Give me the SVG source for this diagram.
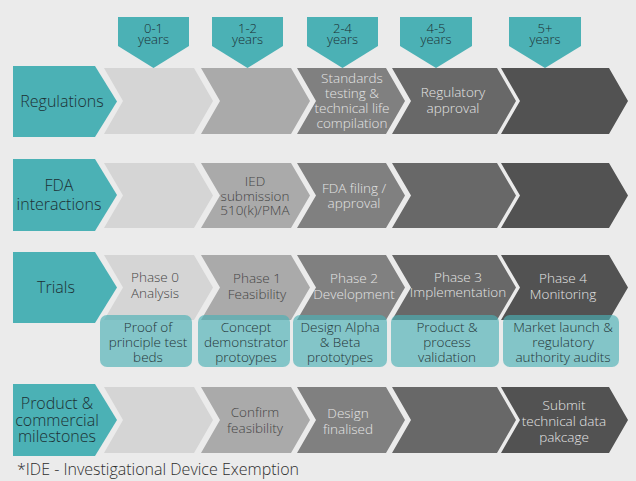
<svg xmlns="http://www.w3.org/2000/svg" width="636" height="481" viewBox="0 0 636 481">
  <style>
    text { font-family: "Open Sans", "Liberation Sans", sans-serif; text-anchor: middle; font-weight: 300; }
    .bg { fill: #ebebeb; }
    .label { fill: #4bb1b5; }
    .label-text { fill: #1c3034; font-size: 16px; }
    .tag { fill: #4bb1b5; }
    .tag-text { fill: #1c3034; font-size: 13px; }
    .c1 { fill: #d5d5d5; }
    .c2 { fill: #aaaaaa; }
    .c3 { fill: #808080; }
    .c4 { fill: #686868; }
    .c5 { fill: #525252; }
    .dark-text { fill: #454545; font-size: 13.5px; }
    .light-text { fill: #e4e4e4; font-size: 13.5px; }
    .box { fill: #4bb1b5; fill-opacity: 0.65; }
    .box-text { fill: #253638; font-size: 13.5px; }
    .note { fill: #2e2e2e; font-size: 16px; text-anchor: start; }
  </style>

  <rect class="bg" x="0" y="0" width="636" height="481"/>

  <!-- timeline tags -->
  <g id="tag-0-1">
    <polygon class="tag" points="118,17 189,17 189,46 153.5,68 118,46"/>
    <text class="tag-text" x="153.5" y="32.5">0-1</text>
    <text class="tag-text" x="153.5" y="43.5">years</text>
  </g>
  <g id="tag-1-2">
    <polygon class="tag" points="212,17 283,17 283,46 247.5,68 212,46"/>
    <text class="tag-text" x="247.5" y="32.5">1-2</text>
    <text class="tag-text" x="247.5" y="43.5">years</text>
  </g>
  <g id="tag-2-4">
    <polygon class="tag" points="307,17 378,17 378,46 342.5,68 307,46"/>
    <text class="tag-text" x="342.5" y="32.5">2-4</text>
    <text class="tag-text" x="342.5" y="43.5">years</text>
  </g>
  <g id="tag-4-5">
    <polygon class="tag" points="400,17 472,17 472,46 436,68 400,46"/>
    <text class="tag-text" x="436" y="32.5">4-5</text>
    <text class="tag-text" x="436" y="43.5">years</text>
  </g>
  <g id="tag-5plus">
    <polygon class="tag" points="509,17 581,17 581,46 545,68 509,46"/>
    <text class="tag-text" x="545" y="32.5">5+</text>
    <text class="tag-text" x="545" y="43.5">years</text>
  </g>

  <!-- Row: Regulations -->
  <g id="row-regulations">
    <polygon class="label" points="13,66 95,66 117,101.5 95,137 13,137"/>
    <text class="label-text" x="62" y="107">Regulations</text>
    <polygon class="c1" points="104,68 194,68 213,101 194,134 104,134 123,101"/>
    <polygon class="c2" points="201,68 291,68 310,101 291,134 201,134 220,101"/>
    <polygon class="c3" points="297,68 386,68 405,101 386,134 297,134 316,101"/>
    <polygon class="c4" points="392,68 497,68 516,101 497,134 392,134 411,101"/>
    <polygon class="c5" points="501,68 609,68 628,101 609,134 501,134 520,101"/>
    <text class="light-text" x="352" y="83">Standards</text>
    <text class="light-text" x="352" y="98">testing &amp;</text>
    <text class="light-text" x="352" y="113">technical life</text>
    <text class="light-text" x="352" y="128">compilation</text>
    <text class="light-text" x="453" y="97">Regulatory</text>
    <text class="light-text" x="453" y="113">approval</text>
  </g>

  <!-- Row: FDA interactions -->
  <g id="row-fda">
    <polygon class="label" points="13,159 95,159 117,195 95,231 13,231"/>
    <text class="label-text" x="59" y="191">FDA</text>
    <text class="label-text" x="59" y="210">interactions</text>
    <polygon class="c1" points="104,163 194,163 213,195.5 194,228 104,228 123,195.5"/>
    <polygon class="c2" points="201,163 291,163 310,195.5 291,228 201,228 220,195.5"/>
    <polygon class="c3" points="297,163 386,163 405,195.5 386,228 297,228 316,195.5"/>
    <polygon class="c4" points="392,163 497,163 516,195.5 497,228 392,228 411,195.5"/>
    <polygon class="c5" points="501,163 609,163 628,195.5 609,228 501,228 520,195.5"/>
    <text class="dark-text" x="255" y="186">IED</text>
    <text class="dark-text" x="255" y="200.5">submission</text>
    <text class="dark-text" x="255" y="215">510(k)/PMA</text>
    <text class="light-text" x="354" y="193">FDA filing /</text>
    <text class="light-text" x="354" y="208">approval</text>
  </g>

  <!-- Row: Trials -->
  <g id="row-trials">
    <polygon class="label" points="13,252 95,252 117,287.5 95,323 13,323"/>
    <text class="label-text" x="56" y="293">Trials</text>
    <polygon class="c1" points="104,255 194,255 213,287.5 194,320 104,320 123,287.5"/>
    <polygon class="c2" points="201,255 291,255 310,287.5 291,320 201,320 220,287.5"/>
    <polygon class="c3" points="297,255 386,255 405,287.5 386,320 297,320 316,287.5"/>
    <polygon class="c4" points="392,255 497,255 516,287.5 497,320 392,320 411,287.5"/>
    <polygon class="c5" points="501,255 609,255 628,287.5 609,320 501,320 520,287.5"/>
    <text class="dark-text" x="155" y="282">Phase 0</text>
    <text class="dark-text" x="155" y="298">Analysis</text>
    <text class="dark-text" x="257" y="283">Phase 1</text>
    <text class="dark-text" x="257" y="299">Feasibility</text>
    <text class="light-text" x="354" y="283">Phase 2</text>
    <text class="light-text" x="354" y="299">Development</text>
    <text class="light-text" x="458" y="282">Phase 3</text>
    <text class="light-text" x="458" y="297">Implementation</text>
    <text class="light-text" x="563" y="283">Phase 4</text>
    <text class="light-text" x="563" y="299">Monitoring</text>
  </g>

  <!-- Trial deliverables -->
  <g id="box-proof">
    <rect class="box" x="100" y="315" width="92" height="52" rx="7"/>
    <text class="box-text" x="148" y="332">Proof of</text>
    <text class="box-text" x="148" y="347">principle test</text>
    <text class="box-text" x="148" y="362">beds</text>
  </g>
  <g id="box-concept">
    <rect class="box" x="198" y="315" width="92" height="52" rx="7"/>
    <text class="box-text" x="246" y="332">Concept</text>
    <text class="box-text" x="246" y="347">demonstrator</text>
    <text class="box-text" x="246" y="362">protoypes</text>
  </g>
  <g id="box-design">
    <rect class="box" x="293" y="315" width="94" height="52" rx="7"/>
    <text class="box-text" x="340" y="332">Design Alpha</text>
    <text class="box-text" x="340" y="347">&amp; Beta</text>
    <text class="box-text" x="340" y="362">prototypes</text>
  </g>
  <g id="box-validation">
    <rect class="box" x="391" y="315" width="108" height="52" rx="7"/>
    <text class="box-text" x="447" y="332">Product &amp;</text>
    <text class="box-text" x="447" y="347">process</text>
    <text class="box-text" x="447" y="362">validation</text>
  </g>
  <g id="box-launch">
    <rect class="box" x="503" y="315" width="116" height="52" rx="7"/>
    <text class="box-text" x="563" y="332">Market launch &amp;</text>
    <text class="box-text" x="563" y="347">regulatory</text>
    <text class="box-text" x="563" y="362">authority audits</text>
  </g>

  <!-- Row: Product & commercial milestones -->
  <g id="row-milestones">
    <polygon class="label" points="13,384 95,384 117,420 95,456 13,456"/>
    <text class="label-text" x="57" y="409">Product &amp;</text>
    <text class="label-text" x="57" y="426">commercial</text>
    <text class="label-text" x="57" y="442">milestones</text>
    <polygon class="c1" points="104,387 194,387 213,420 194,453 104,453 123,420"/>
    <polygon class="c2" points="201,387 291,387 310,420 291,453 201,453 220,420"/>
    <polygon class="c3" points="297,387 386,387 405,420 386,453 297,453 316,420"/>
    <polygon class="c4" points="392,387 497,387 516,420 497,453 392,453 411,420"/>
    <polygon class="c5" points="501,387 609,387 628,420 609,453 501,453 520,420"/>
    <text class="dark-text" x="255" y="417">Confirm</text>
    <text class="dark-text" x="255" y="433">feasibility</text>
    <text class="light-text" x="348" y="418">Design</text>
    <text class="light-text" x="348" y="434">finalised</text>
    <text class="light-text" x="564" y="410">Submit</text>
    <text class="light-text" x="564" y="426">technical data</text>
    <text class="light-text" x="564" y="442">pakcage</text>
  </g>

  <text class="note" x="17" y="475">*IDE - Investigational Device Exemption</text>
</svg>
